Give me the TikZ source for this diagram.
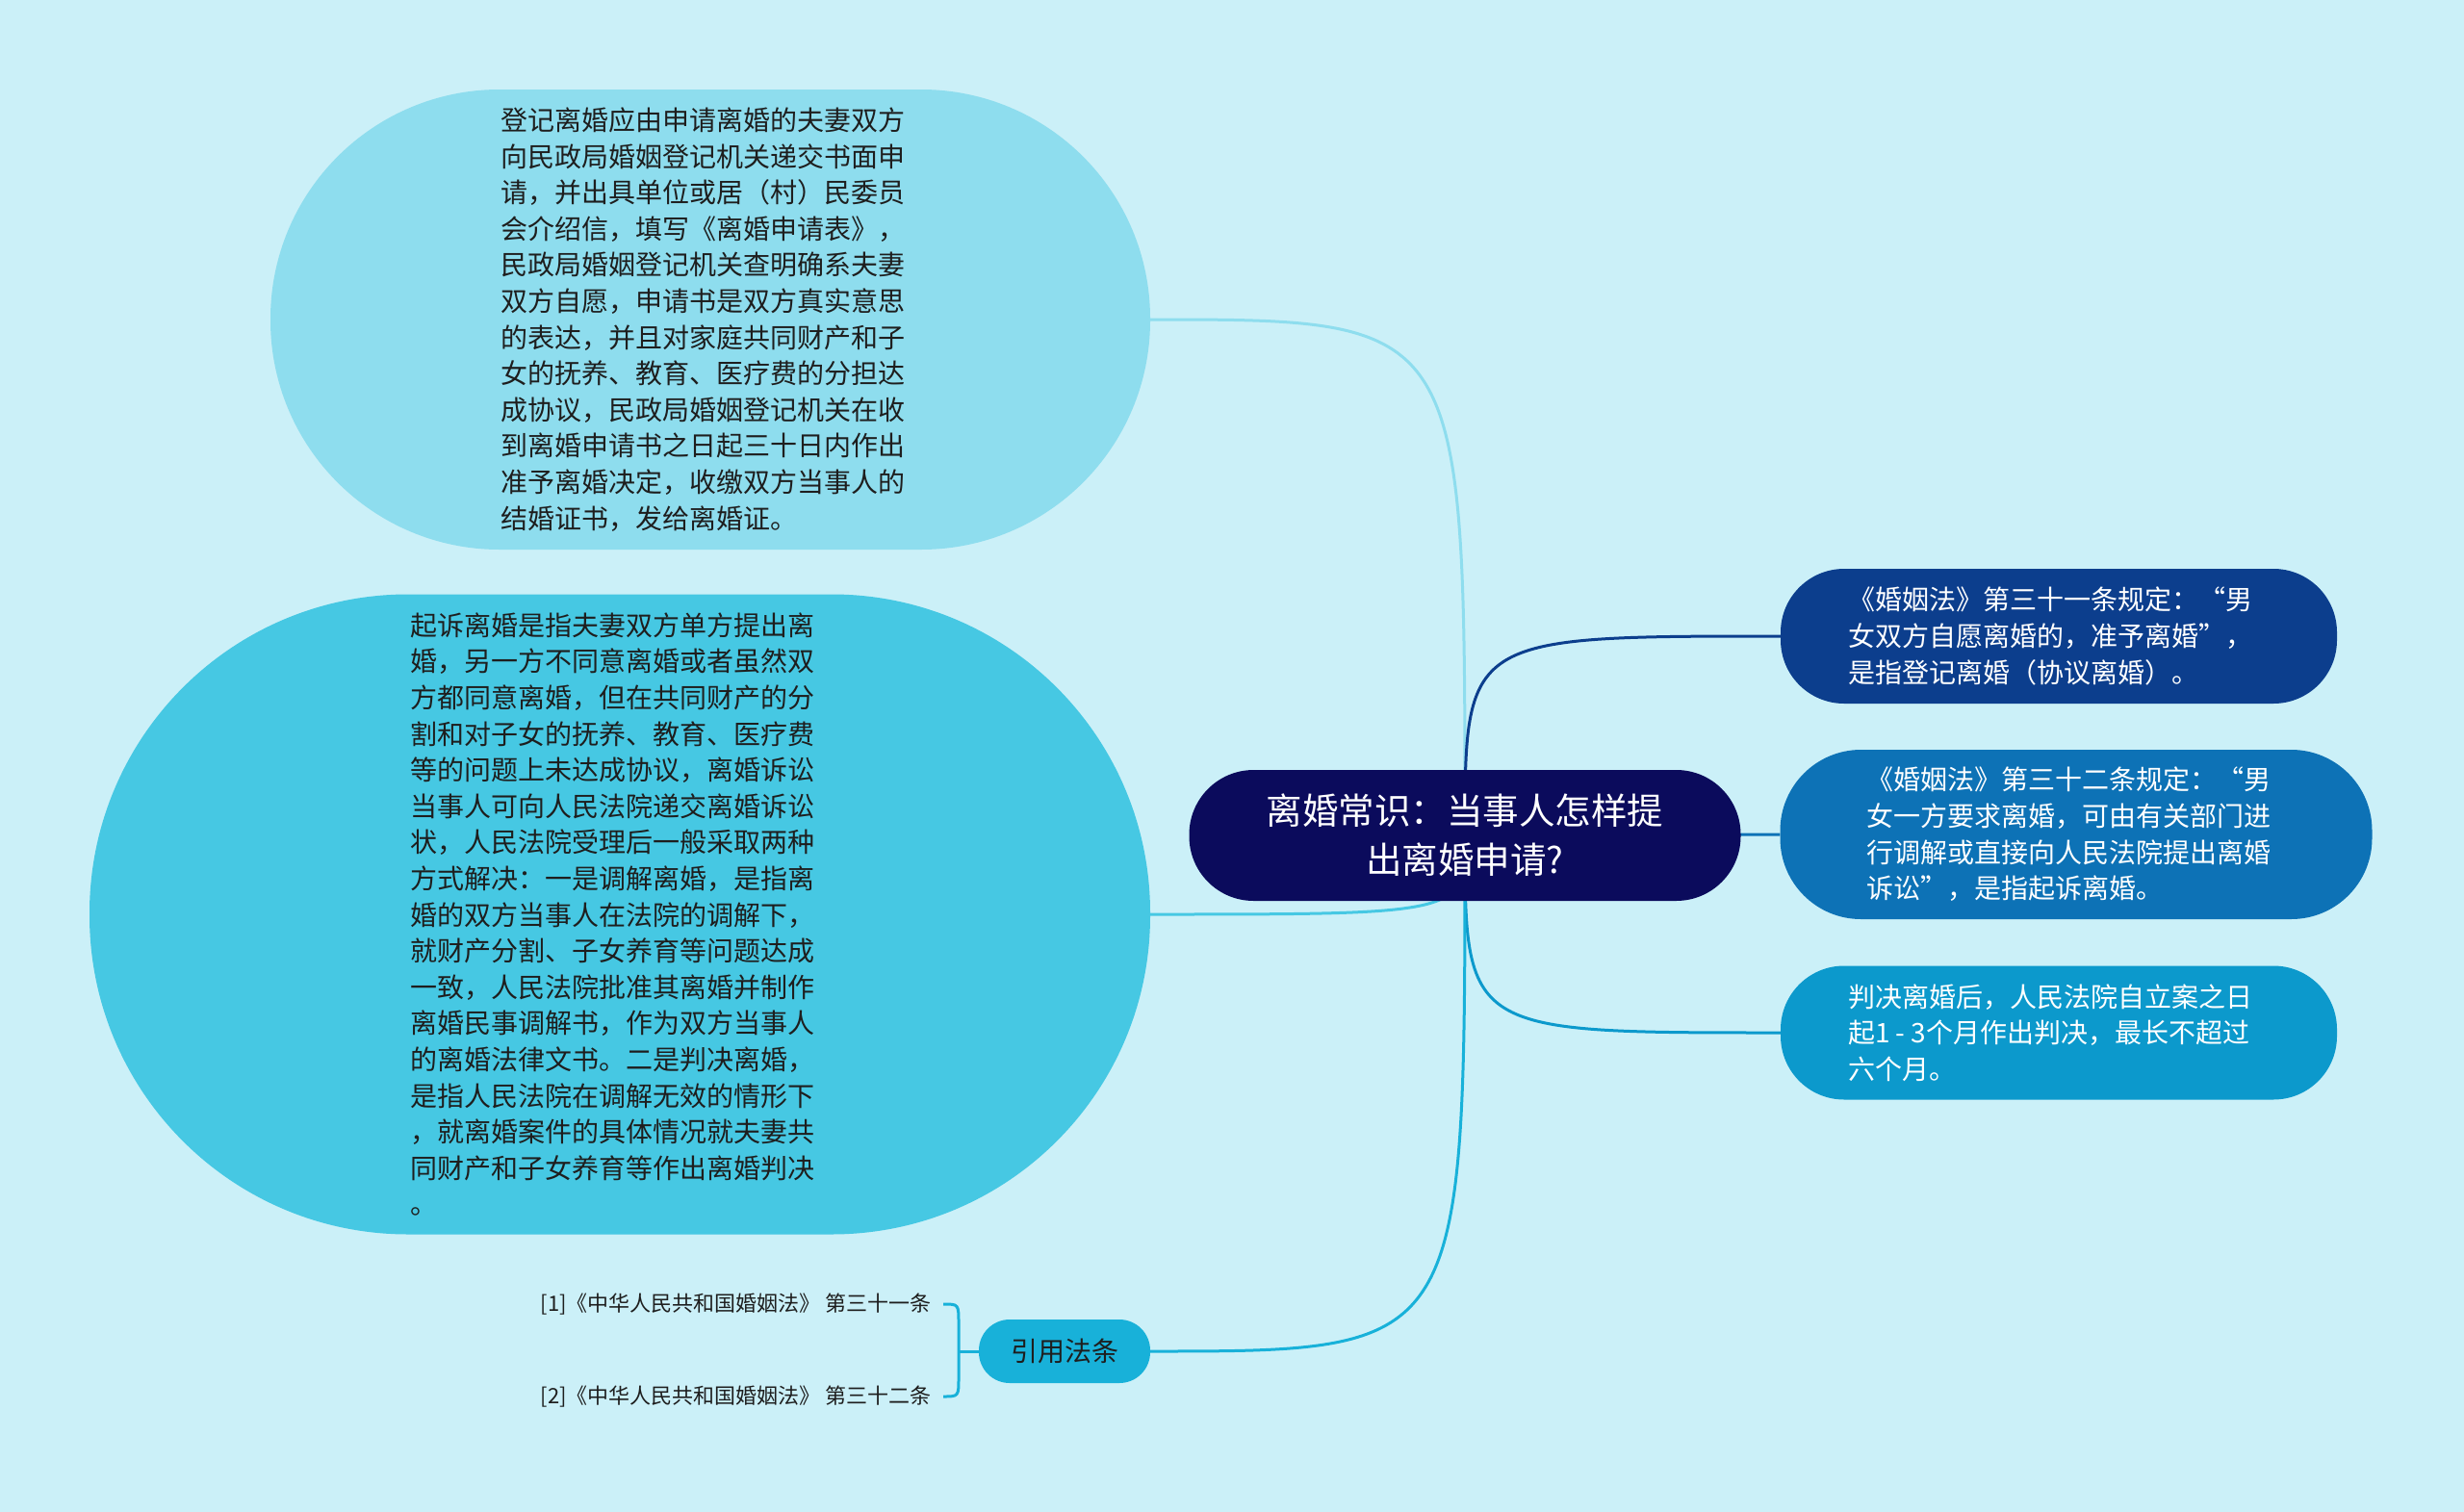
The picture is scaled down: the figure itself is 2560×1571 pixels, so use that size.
\documentclass[tikz,border=0pt]{standalone}
\usepackage{fontspec}
\setmainfont{Noto Sans CJK SC}
\usetikzlibrary{backgrounds}
\definecolor{bgc}{HTML}{CBF0F8}
\definecolor{ctop}{HTML}{8EDDEE}
\definecolor{cleft}{HTML}{46C8E3}
\definecolor{cctr}{HTML}{0B0B5C}
\definecolor{cra}{HTML}{0C3E8D}
\definecolor{crb}{HTML}{0D72B6}
\definecolor{crc}{HTML}{0C99CC}
\definecolor{ccite}{HTML}{18B1D9}
\definecolor{txt}{HTML}{1E1E1E}
\tikzset{
  shapebox/.style={rectangle, fill=#1, inner sep=0pt},
  bodytext/.style={inner sep=0pt, align=left, text=#1,
    font=\fontsize{28}{37.6}\selectfont},
  link/.style={line width=3pt, draw=#1},
  reftext/.style={inner sep=0pt, anchor=east, text=txt, font=\fontsize{22}{28}\selectfont},
}
\begin{document}
\begin{tikzpicture}[x=1pt,y=-1pt]
\useasboundingbox (0,0) rectangle (2560,1571);

\node[shapebox=ctop, minimum width=914pt, minimum height=478pt, rounded corners=238pt] (top) at (738,332) {};
\node[bodytext=txt] (topT) at (730,332)
{登记离婚应由申请离婚的夫妻双方\\向民政局婚姻登记机关递交书面申\\请，并出具单位或居（村）民委员\\会介绍信，填写《离婚申请表》，\\民政局婚姻登记机关查明确系夫妻\\双方自愿，申请书是双方真实意思\\的表达，并且对家庭共同财产和子\\女的抚养、教育、医疗费的分担达\\成协议，民政局婚姻登记机关在收\\到离婚申请书之日起三十日内作出\\准予离婚决定，收缴双方当事人的\\结婚证书，发给离婚证。};

\node[shapebox=cleft, minimum width=1102pt, minimum height=665pt, rounded corners=331pt] (left) at (644,950) {};
\node[bodytext=txt] (leftT) at (636,950)
{起诉离婚是指夫妻双方单方提出离\\婚，另一方不同意离婚或者虽然双\\方都同意离婚，但在共同财产的分\\割和对子女的抚养、教育、医疗费\\等的问题上未达成协议，离婚诉讼\\当事人可向人民法院递交离婚诉讼\\状，人民法院受理后一般采取两种\\方式解决：一是调解离婚，是指离\\婚的双方当事人在法院的调解下，\\就财产分割、子女养育等问题达成\\一致，人民法院批准其离婚并制作\\离婚民事调解书，作为双方当事人\\的离婚法律文书。二是判决离婚，\\是指人民法院在调解无效的情形下\\，就离婚案件的具体情况就夫妻共\\同财产和子女养育等作出离婚判决\\。};

\node[rectangle, fill=cctr, text=white, align=center, inner sep=0pt,
  minimum width=573pt, minimum height=136pt, rounded corners=67pt,
  font=\fontsize{37.5}{51}\selectfont] (ctr) at (1522,868)
{离婚常识：当事人怎样提\\出离婚申请?};

\node[shapebox=cra, minimum width=578pt, minimum height=140pt, rounded corners=66pt] (ra) at (2139,661) {};
\node[bodytext=white] (raT) at (2130,661)
{《婚姻法》第三十一条规定：“男\\女双方自愿离婚的，准予离婚”，\\是指登记离婚（协议离婚）。};

\node[shapebox=crb, minimum width=615pt, minimum height=176pt, rounded corners=84pt] (rb) at (2157,867) {};
\node[bodytext=white] (rbT) at (2149,867)
{《婚姻法》第三十二条规定：“男\\女一方要求离婚，可由有关部门进\\行调解或直接向人民法院提出离婚\\诉讼”，是指起诉离婚。};

\node[shapebox=crc, minimum width=578pt, minimum height=139pt, rounded corners=66pt] (rc) at (2139,1073) {};
\node[bodytext=white] (rcT) at (2130,1073)
{判决离婚后，人民法院自立案之日\\起1 - 3个月作出判决，最长不超过\\六个月。};

\node[rectangle, fill=ccite, text=txt, inner sep=0pt, minimum width=178pt, minimum height=66pt,
  rounded corners=32pt, font=\fontsize{28}{34}\selectfont] (cite) at (1106,1404) {引用法条};

\node[reftext] (ref1) at (968,1355) {[1]《中华人民共和国婚姻法》 第三十一条};
\node[reftext] (ref2) at (968,1451) {[2]《中华人民共和国婚姻法》 第三十二条};

\coordinate (b1) at ([xshift=12pt]ref1.east);
\coordinate (b2) at ([xshift=12pt]ref2.east);
\coordinate (bm) at (996,1404);

\begin{scope}[on background layer]
\fill[bgc] (0,0) rectangle (2560,1571);
\draw[link=ctop] (ctr.center) .. controls (ctr.center |- top.east) .. (top.east);
\draw[link=cleft] (ctr.center) .. controls (ctr.center |- left.east) .. (left.east);
\draw[link=cra] (ctr.center) .. controls (ctr.center |- ra.west) .. (ra.west);
\draw[link=crb] (ctr.center) -- (rb.west);
\draw[link=crc] (ctr.center) .. controls (ctr.center |- rc.west) .. (rc.west);
\draw[link=ccite] (ctr.center) .. controls (ctr.center |- cite.east) .. (cite.east);
\draw[link=ccite] (b1) .. controls (bm |- b1) .. ([yshift=-20pt]bm |- b1) -- ([yshift=20pt]bm |- b2) .. controls (bm |- b2) .. (b2);
\draw[link=ccite] (bm) -- (cite.west);
\end{scope}
\end{tikzpicture}
\end{document}
